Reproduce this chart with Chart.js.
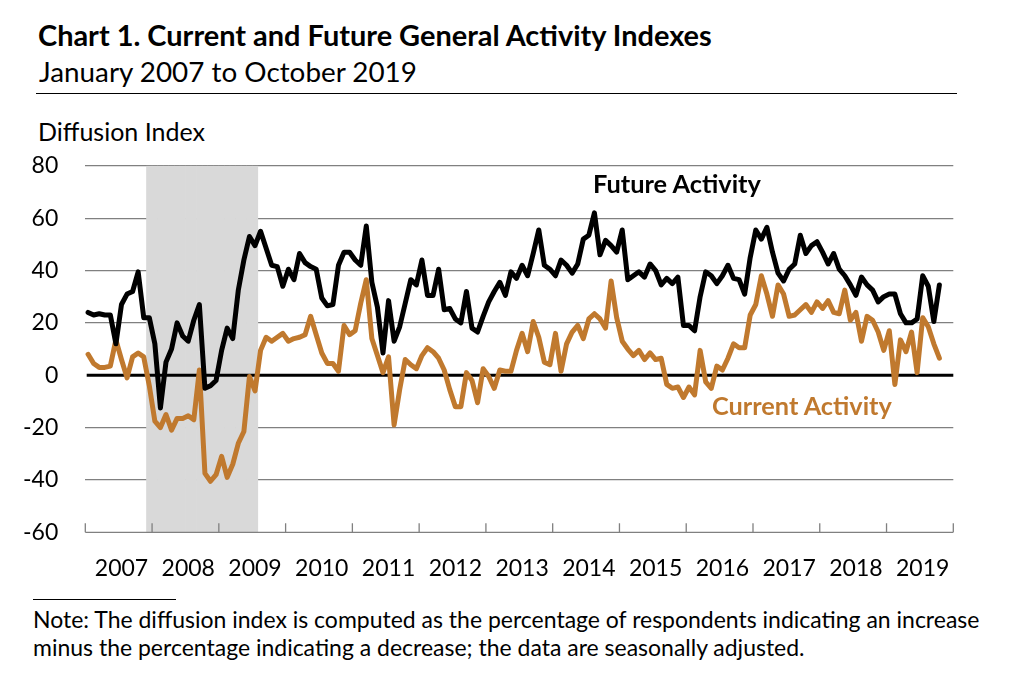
<!DOCTYPE html>
<html>
<head>
<meta charset="utf-8">
<title>Current and Future General Activity Indexes</title>
<script src="https://cdn.jsdelivr.net/npm/chart.js@4.4.1/dist/chart.umd.min.js"></script>
<style>
  body { margin: 0; background: #fff; }
  #page { position: relative; width: 1024px; height: 692px; overflow: hidden; font-family: Lato, "Open Sans", sans-serif; color: #000; }
  .txt { position: absolute; white-space: nowrap; line-height: 1; font-size: 20px; }
  .bold { font-weight: bold; }
  .rule { position: absolute; background: #000; }
  #chartBox { position: absolute; left: 0; top: 125px; width: 1024px; height: 465px; }
</style>
</head>
<body>
<div id="page">
  <div class="txt bold" id="title">Chart 1. Current and Future General Activity Indexes</div>
  <div class="txt" id="subtitle">January 2007 to October 2019</div>
  <div class="rule" style="left:36px; top:92.5px; width:921px; height:1.5px;"></div>
  <div class="txt" id="yTitle">Diffusion Index</div>

  <div id="chartBox"><canvas id="activityChart"></canvas></div>

  <div class="txt bold" id="futureLabel">Future Activity</div>
  <div class="txt bold" id="currentLabel" style="color:#c0792e">Current Activity</div>

  <div class="rule" style="left:33px; top:598.5px; width:143px; height:1.3px;"></div>
  <div class="txt" id="note1">Note: The diffusion index is computed as the percentage of respondents indicating an increase</div>
  <div class="txt" id="note2">minus the percentage indicating a decrease; the data are seasonally adjusted.</div>
</div>

<script>
// Eixo horizontal: um rótulo por ano, dados mensais
const years = ['2007', '2008', '2009', '2010', '2011', '2012', '2013',
               '2014', '2015', '2016', '2017', '2018', '2019'];
const months = ['Jan', 'Feb', 'Mar', 'Apr', 'May', 'Jun',
                'Jul', 'Aug', 'Sep', 'Oct', 'Nov', 'Dec'];

// Future general activity index, Jan 2007 - Oct 2019
const futureActivity = [
    24, 23, 23.5, 23, 23, 12, 27, 31, 32, 39.5, 22, 22,
    12, -12.5, 5, 10, 20, 15, 13, 21, 27, -5, -4, -2,
    9.5, 18, 14, 32.5, 44, 53, 49.5, 55, 48.5, 42, 41.5, 34,
    40.5, 36.5, 46.5, 43, 41.5, 40.5, 29.5, 26.5, 27, 42, 47, 47,
    44, 42, 57, 35.5, 26, 8.5, 28.5, 13, 18.5, 27.5, 36.5, 34.5,
    44, 30.5, 30.5, 40.5, 25, 25.5, 21.5, 20, 32, 18, 16.5, 22.5,
    28, 32, 35.5, 30.5, 39.5, 37, 42, 38, 46.5, 55.5, 42, 40.5,
    38, 44, 42, 39, 42.5, 52, 53.5, 62, 46, 51.5, 49.5, 47,
    55.5, 36.5, 38, 39.5, 37.5, 42.5, 40, 34.5, 37, 35, 37.5, 19,
    19, 17, 30, 39.5, 38, 35, 38, 42, 37, 36.5, 31, 45,
    55.5, 52, 56.5, 47, 39, 36, 40.5, 42.5, 53.5, 46.5, 49.5, 51,
    47, 42.5, 46.5, 40.5, 38, 34.5, 30.5, 37.5, 34.5, 32.5, 28, 30,
    31, 31, 23.5, 20, 20, 21.5, 38, 34, 20.5, 34.5
];

// Current general activity index, Jan 2007 - Oct 2019
const currentActivity = [
    8, 4.5, 3, 3, 3.5, 13.5, 6, -1, 7, 8.5, 7, -4,
    -17.5, -20, -15, -21, -16.5, -16.5, -15.5, -17, 2, -37.5, -40.5, -38,
    -31, -39, -34, -26, -21.5, -0.5, -6, 9.5, 14.5, 13, 14.5, 16,
    13, 14, 14.5, 15.5, 22.5, 15.5, 8.5, 4.5, 4.5, 1.5, 19, 15.5,
    17, 27.5, 36.5, 14, 7.5, 1, 7, -19, -5.5, 6, 4, 2.5,
    7.5, 10.5, 9, 6.5, 2, -5.5, -12, -12, 1, -2, -10.5, 2.5,
    -0.5, -5, 2, 1.5, 1.5, 9.5, 16, 9, 20.5, 14.5, 5, 4,
    16, 1.5, 12, 16.5, 19, 14, 21.5, 23.5, 21.5, 18, 36, 22,
    13, 10, 7.5, 9.5, 6, 8.5, 6, 6.5, -3.5, -5, -4.5, -8.5,
    -4.5, -7.5, 9.5, -2.5, -5, 3.5, 2, 6.5, 12, 10.5, 10.5, 23,
    27, 38, 31, 22.5, 34.5, 31, 22.5, 23, 25, 27, 24, 28,
    25.5, 28.5, 24, 23.5, 32.5, 21, 24, 13, 22.5, 21, 16.5, 9.5,
    17, -3.5, 13.5, 9, 16.5, 1, 22, 18.5, 12, 6.5
];

// Recessão (área sombreada)
const recessionStart = 'Dec 2007';
const recessionEnd = 'Jul 2009';

const yMin = -60;
const yMax = 80;
const orange = '#c0792e';

const labels = [];
years.forEach(y => months.forEach(m => labels.push(m + ' ' + y)));
const rs = labels.indexOf(recessionStart);
const re = labels.indexOf(recessionEnd);
const recession = labels.map((l, i) => (i >= rs && i <= re) ? [yMin, yMax] : null);

/**
 * Ajusta o tamanho da fonte de um texto para ocupar a largura indicada
 * e posiciona a linha de base na altura dada
 */
function placeText(id, left, baseline, width, size) {
    const el = document.getElementById(id);
    if (!size) {
        const w = el.getBoundingClientRect().width;
        size = 20 * width / w;
    }
    el.style.fontSize = size + 'px';
    el.style.left = left + 'px';
    el.style.top = (baseline - 0.887 * size) + 'px';
    return size;
}

placeText('title', 38, 46.7, 674);
placeText('subtitle', 39, 83, 378);
placeText('yTitle', 38, 141.5, 167);
placeText('futureLabel', 593, 194, 168);
placeText('currentLabel', 712, 415, 180);
const noteSize = placeText('note1', 33, 628, 947);
placeText('note2', 33, 656, 0, noteSize);

// Linha do zero por cima da sombra, marcas dos anos e linha do eixo
const axisMarks = {
    id: 'axisMarks',
    afterDatasetDraw(chart, args) {
        if (args.index !== 0) return;
        const ctx = chart.ctx;
        const area = chart.chartArea;
        const y0 = chart.scales.y.getPixelForValue(0);
        ctx.save();
        ctx.strokeStyle = '#000';
        ctx.lineWidth = 3;
        ctx.beginPath();
        ctx.moveTo(area.left + 1.4, y0);
        ctx.lineTo(area.right, y0);
        ctx.stroke();
        ctx.restore();
    },
    afterDatasetsDraw(chart) {
        const ctx = chart.ctx;
        const area = chart.chartArea;
        const x = chart.scales.x;
        const half = (x.getPixelForValue(1) - x.getPixelForValue(0)) / 2;
        ctx.save();
        ctx.strokeStyle = '#808080';
        ctx.lineWidth = 1.3;
        ctx.beginPath();
        ctx.moveTo(area.left, area.bottom);
        ctx.lineTo(area.right, area.bottom);
        for (let i = 0; i <= labels.length; i += 12) {
            const px = i < labels.length ? x.getPixelForValue(i) - half
                                         : x.getPixelForValue(i - 1) + half;
            ctx.moveTo(px, area.bottom);
            ctx.lineTo(px, area.bottom - 9);
        }
        ctx.stroke();
        ctx.restore();
    }
};

const chartData = {
    labels: labels,
    datasets: [
        {
            type: 'bar',
            label: 'Recession',
            data: recession,
            backgroundColor: '#d9d9d9',
            borderWidth: 0,
            barPercentage: 1,
            categoryPercentage: 1,
            order: 3
        },
        {
            type: 'line',
            label: 'Current Activity',
            data: currentActivity,
            borderColor: orange,
            borderWidth: 5,
            pointRadius: 0,
            tension: 0,
            borderJoinStyle: 'round',
            borderCapStyle: 'round',
            order: 2
        },
        {
            type: 'line',
            label: 'Future Activity',
            data: futureActivity,
            borderColor: '#000',
            borderWidth: 5,
            pointRadius: 0,
            tension: 0,
            borderJoinStyle: 'round',
            borderCapStyle: 'round',
            order: 1
        }
    ]
};

const tickFont = { family: 'Lato', size: 23 };

new Chart(document.getElementById('activityChart'), {
    type: 'bar',
    data: chartData,
    plugins: [axisMarks],
    options: {
        responsive: true,
        maintainAspectRatio: false,
        animation: false,
        layout: { padding: { top: 15, right: 70.7, bottom: 0, left: 0 } },
        plugins: {
            legend: { display: false },
            tooltip: { enabled: false }
        },
        scales: {
            x: {
                offset: true,
                grid: { display: false },
                border: { display: false },
                ticks: {
                    autoSkip: false,
                    maxRotation: 0,
                    minRotation: 0,
                    padding: 14,
                    color: '#000',
                    font: tickFont,
                    callback: (v, i) => i % 12 === 6 ? years[Math.floor(i / 12)] : ''
                },
                afterFit: scale => { scale.height = 57.7; }
            },
            y: {
                min: yMin,
                max: yMax,
                grid: {
                    drawTicks: false,
                    lineWidth: 1.3,
                    color: c => (c.tick.value === 0 || c.tick.value === yMin) ? 'rgba(0,0,0,0)' : '#808080'
                },
                border: { display: false },
                ticks: {
                    stepSize: 20,
                    padding: 27,
                    color: '#000',
                    font: tickFont
                },
                afterFit: scale => { scale.width = 85.3; }
            }
        }
    }
});
</script>
</body>
</html>
